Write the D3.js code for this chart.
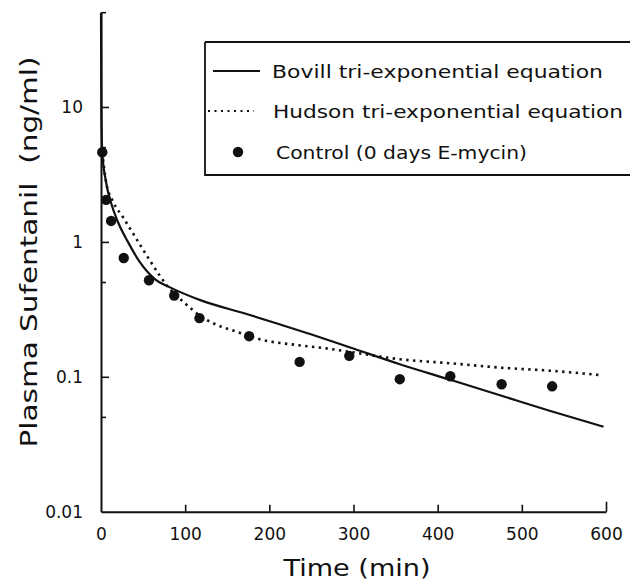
<!DOCTYPE html>
<html>
<head>
<meta charset="utf-8">
<script src="https://cdn.jsdelivr.net/npm/d3@7"></script>
<style>
  html, body { margin: 0; padding: 0; background: #fff; }
  svg { display: block; }
  text { font-family: "DejaVu Sans", sans-serif; fill: #111; }
</style>
</head>
<body>
<svg id="chart" width="630" height="584"></svg>
<script>
// ---- data ----
const obsTime = [1.5, 6, 12, 27, 57, 87, 117, 176, 236, 295, 355, 415, 476, 536];
const obsConc = [4.62, 2.05, 1.43, 0.76, 0.52, 0.40, 0.272, 0.20, 0.129, 0.143, 0.096, 0.101, 0.088, 0.085];

const bovillTime = [0, 0.4, 1.5, 6, 12, 20, 32, 46, 64, 82, 118, 173, 213, 252, 296, 355, 415, 474, 533, 597];
const bovillConc = [50, 10, 4.62, 2.78, 1.94, 1.41, 1.0, 0.71, 0.53, 0.46, 0.37, 0.292, 0.244, 0.204, 0.165, 0.124, 0.095, 0.073, 0.056, 0.0427];

const hudsonTime = [1.5, 6, 14, 26, 43, 58, 70, 80, 94, 106, 118, 133, 162, 193, 233, 272, 296, 355, 415, 474, 533, 593];
const hudsonConc = [4.62, 2.78, 2.01, 1.53, 1.03, 0.73, 0.56, 0.46, 0.378, 0.324, 0.282, 0.25, 0.215, 0.187, 0.172, 0.161, 0.153, 0.135, 0.126, 0.117, 0.111, 0.103];

const xTickValues = [0, 100, 200, 300, 400, 500, 600];
const yMajorTicks = [0.01, 0.1, 1, 10];
const yMajorLabels = ["0.01", "0.1", "1", "10"];
const yMinorTicks = [0.05, 0.5, 5, 50];

const legendLabels = ["Bovill tri-exponential equation", "Hudson tri-exponential equation", "Control (0 days E-mycin)"];
const xTitle = "Time (min)";
const yTitle = "Plasma Sufentanil  (ng/ml)";

// ---- drawing ----
const svg = d3.select("#chart");
const x = d3.scaleLinear().domain([0, 600]).range([101, 606]);
const y = d3.scaleLog().domain([0.01, 50]).range([511.7, 12.7]);

const ink = "#111";

// x axis
const xAxis = d3.axisBottom(x).tickValues(xTickValues).tickSize(-7).tickSizeOuter(0).tickPadding(16)
  .tickFormat(d3.format("d"));
const gx = svg.append("g").attr("transform", `translate(0,${y(0.01)})`).call(xAxis);
gx.select(".domain").attr("stroke", ink).attr("stroke-width", 2);
gx.selectAll(".tick line").attr("stroke", ink).attr("stroke-width", 1.6)
  .attr("y2", d => d === 600 ? -10 : (d === 0 ? 0 : -7));
gx.selectAll(".tick text").attr("font-size", 17).attr("fill", ink)
  .attr("font-family", "DejaVu Sans, sans-serif");

// y axis
const yAxis = d3.axisLeft(y).tickValues(yMajorTicks).tickSize(-8).tickSizeOuter(0).tickPadding(18)
  .tickFormat((d, i) => yMajorLabels[i]);
const gy = svg.append("g").attr("transform", `translate(${x(0)},0)`).call(yAxis);
gy.select(".domain").attr("stroke", ink).attr("stroke-width", 2);
gy.selectAll(".tick line").attr("stroke", ink).attr("stroke-width", 1.6)
  .attr("x2", d => d === 0.01 ? 0 : 8);
gy.selectAll(".tick text").attr("font-size", 17).attr("fill", ink)
  .attr("font-family", "DejaVu Sans, sans-serif");

// minor y ticks
svg.append("g").selectAll("line").data(yMinorTicks).join("line")
  .attr("x1", x(0)).attr("x2", x(0) + 5)
  .attr("y1", d => y(d)).attr("y2", d => y(d))
  .attr("stroke", ink).attr("stroke-width", 1.6);

// curves
const line = d3.line().x(d => x(d[0])).y(d => y(d[1])).curve(d3.curveMonotoneX);
svg.append("path")
  .datum(bovillTime.map((t, i) => [t, bovillConc[i]]))
  .attr("d", line).attr("fill", "none").attr("stroke", ink).attr("stroke-width", 2.2);
svg.append("path")
  .datum(hudsonTime.map((t, i) => [t, hudsonConc[i]]))
  .attr("d", line).attr("fill", "none").attr("stroke", ink).attr("stroke-width", 2.6)
  .attr("stroke-dasharray", "2.4,4.4");

// observed points
svg.append("g").selectAll("circle").data(obsTime.map((t, i) => [t, obsConc[i]])).join("circle")
  .attr("cx", d => x(d[0])).attr("cy", d => y(d[1])).attr("r", 5.2).attr("fill", ink);

// legend
const lg = svg.append("g");
lg.append("path").attr("d", "M205,42 L632,42 M205,42 L205,175 L632,175")
  .attr("fill", "none").attr("stroke", ink).attr("stroke-width", 1.8);
const rowY = [71, 111, 152];
lg.append("line").attr("x1", 213).attr("x2", 260).attr("y1", rowY[0]).attr("y2", rowY[0])
  .attr("stroke", ink).attr("stroke-width", 2);
lg.append("line").attr("x1", 208).attr("x2", 254).attr("y1", rowY[1]).attr("y2", rowY[1])
  .attr("stroke", ink).attr("stroke-width", 2.2).attr("stroke-dasharray", "2,4.5");
lg.append("circle").attr("cx", 238).attr("cy", rowY[2]).attr("r", 5.2).attr("fill", ink);
const legX = [272, 273, 276];
const legW = [331, 350, 251];
legendLabels.forEach((s, i) => {
  lg.append("text").attr("x", legX[i]).attr("y", rowY[i] + 6.5)
    .attr("font-size", 17.5).attr("textLength", legW[i]).attr("lengthAdjust", "spacingAndGlyphs")
    .text(s);
});

// axis titles
svg.append("text").attr("x", 357).attr("y", 576).attr("text-anchor", "middle")
  .attr("font-size", 23).attr("textLength", 147).attr("lengthAdjust", "spacingAndGlyphs")
  .text(xTitle);
svg.append("text").attr("transform", "translate(37,252) rotate(-90)").attr("text-anchor", "middle")
  .attr("font-size", 23).attr("textLength", 391).attr("lengthAdjust", "spacingAndGlyphs")
  .style("white-space", "pre")
  .text(yTitle);
</script>
</body>
</html>
